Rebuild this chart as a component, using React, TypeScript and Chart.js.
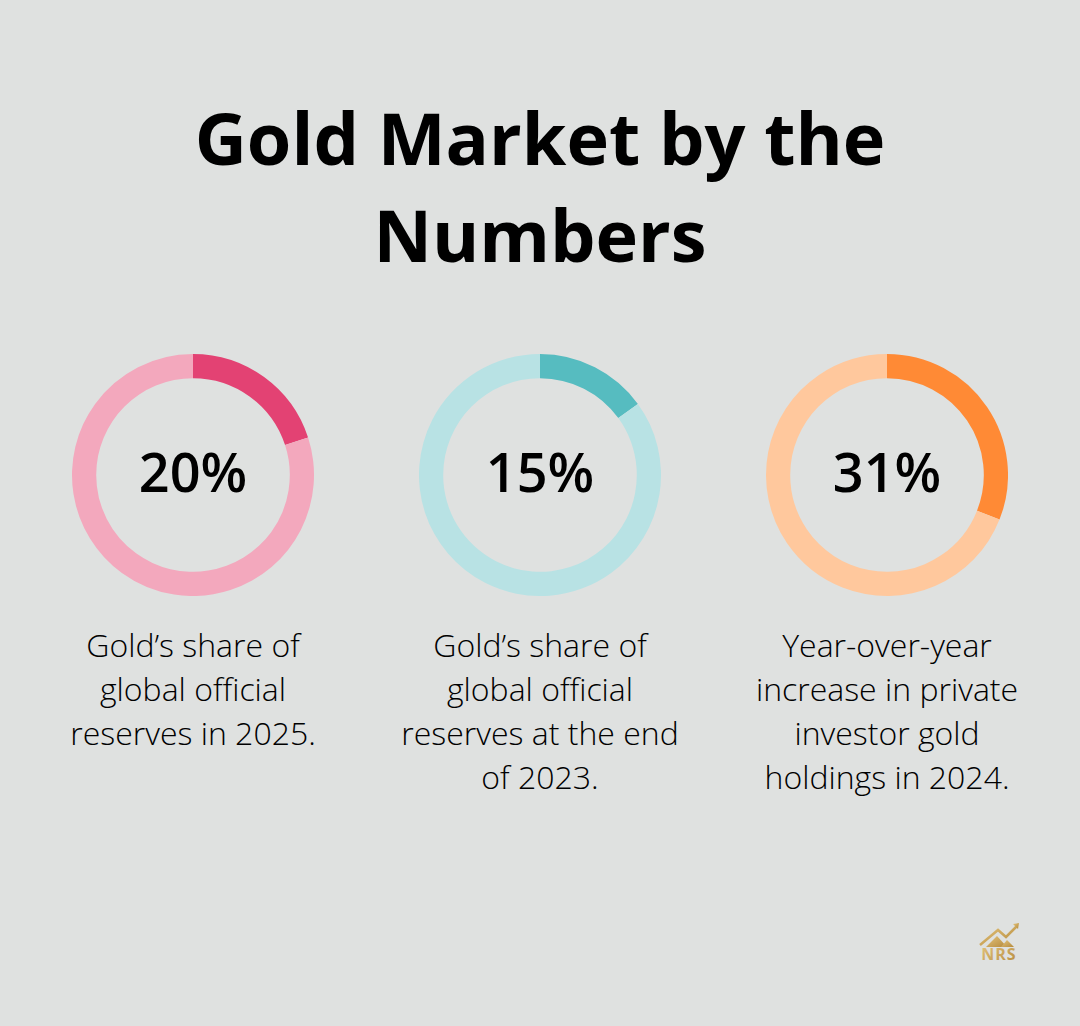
import React, { useEffect, useRef } from "react";
import { Chart, registerables } from "chart.js";

Chart.register(...registerables);

const TITLE_LINES = ["Gold Market by the", "Numbers"];
const VALUES = [20, 15, 31];
const VALUE_LABELS = ["20%", "15%", "31%"];
const DESCRIPTIONS = [
  ["Gold\u2019s share of", "global official", "reserves in 2025."],
  ["Gold\u2019s share of", "global official", "reserves at the end", "of 2023."],
  ["Year-over-year", "increase in private", "investor gold", "holdings in 2024."],
];
const DARK_COLORS = ["#e34273", "#56bcc0", "#ff8a35"];
const LIGHT_COLORS = ["#f3a8bd", "#b8e2e4", "#ffc89d"];

const CENTERS_X = [193, 540, 887];
const CENTER_Y = 474.5;
const SIZE = 242;
const BG = "#dfe1e0";
const FONT = "'Open Sans', sans-serif";

function Donut({ index }: { index: number }) {
  const ref = useRef<HTMLCanvasElement | null>(null);
  useEffect(() => {
    if (!ref.current) return;
    const v = VALUES[index];
    const chart = new Chart(ref.current, {
      type: "doughnut",
      data: {
        labels: ["value", "rest"],
        datasets: [
          {
            data: [v, 100 - v],
            backgroundColor: [DARK_COLORS[index], LIGHT_COLORS[index]],
            borderWidth: 0,
          },
        ],
      },
      options: {
        animation: false,
        responsive: false,
        maintainAspectRatio: false,
        cutout: "80%",
        plugins: { legend: { display: false }, tooltip: { enabled: false } },
        layout: { padding: 0 },
      },
    });
    return () => chart.destroy();
  }, [index]);
  return (
    <canvas
      ref={ref}
      width={SIZE}
      height={SIZE}
      style={{
        position: "absolute",
        left: CENTERS_X[index] - SIZE / 2,
        top: CENTER_Y - SIZE / 2,
        width: SIZE,
        height: SIZE,
      }}
    />
  );
}

export default function App() {
  return (
    <div
      style={{
        position: "absolute",
        left: 0,
        top: 0,
        width: 1080,
        height: 1026,
        background: BG,
        overflow: "hidden",
        fontFamily: FONT,
        color: "#000",
      }}
    >
      <div
        style={{
          position: "absolute",
          left: 0,
          top: 89,
          width: 1080,
          textAlign: "center",
          fontSize: 72,
          lineHeight: "97px",
          fontWeight: 700,
        }}
      >
        {TITLE_LINES.map((l, i) => (
          <div key={i}>{l}</div>
        ))}
      </div>
      {VALUES.map((_, i) => (
        <React.Fragment key={i}>
          <Donut index={i} />
          <div
            style={{
              position: "absolute",
              left: CENTERS_X[i] - 120,
              top: 443,
              width: 240,
              textAlign: "center",
              fontSize: 54,
              lineHeight: "56px",
              fontWeight: 600,
            }}
          >
            {VALUE_LABELS[i]}
          </div>
          <div
            style={{
              position: "absolute",
              left: CENTERS_X[i] - 170,
              top: 623,
              width: 340,
              textAlign: "center",
              fontSize: 32,
              lineHeight: "44px",
              fontWeight: 300,
              color: "#000",
            }}
          >
            {DESCRIPTIONS[i].map((l, j) => (
              <div key={j}>{l}</div>
            ))}
          </div>
        </React.Fragment>
      ))}
      <div style={{ position: "absolute", left: 968, top: 912, width: 62, height: 56 }}>
        <svg width="62" height="56" viewBox="0 0 62 56">
          <defs>
            <linearGradient id="g" x1="0" y1="0" x2="1" y2="1">
              <stop offset="0" stopColor="#e4c47c" />
              <stop offset="1" stopColor="#b58a3c" />
            </linearGradient>
          </defs>
          <polyline points="12,33 30,18 38,25 49,14" fill="none" stroke="url(#g)" strokeWidth="2.5" />
          <polygon points="45,12 51,11 50,17" fill="url(#g)" />
          <polygon points="18,35 29,24 39,35" fill="url(#g)" />
          <polygon points="33,35 39,28 46,35" fill="url(#g)" />
          <text x="31" y="48" textAnchor="middle" fontFamily={FONT} fontWeight={700} fontSize="16" letterSpacing="1" fill="url(#g)">
            NRS
          </text>
        </svg>
      </div>
    </div>
  );
}
